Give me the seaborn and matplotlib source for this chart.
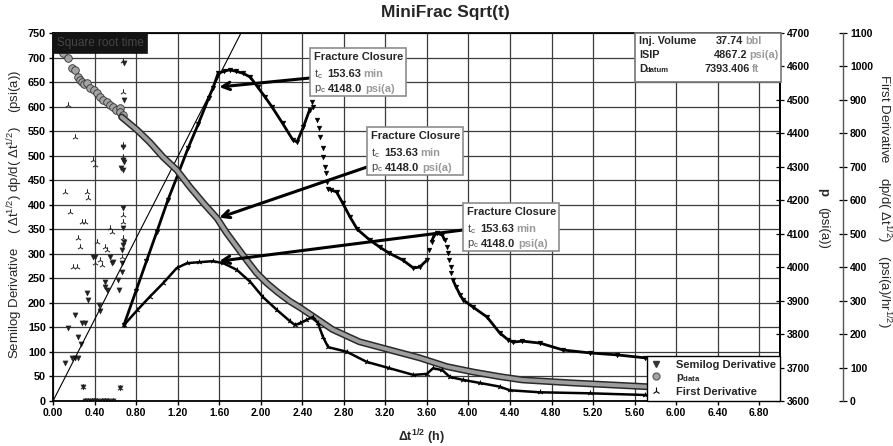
import numpy as np
import matplotlib
matplotlib.use("Agg")
import matplotlib.pyplot as plt
import seaborn as sns
from matplotlib.patches import Rectangle
from matplotlib.lines import Line2D

# ---------------- data ----------------
# x axis: square root of shut-in time, sqrt(h)

# Semilog derivative (psi(a)) - scattered early values
semilog_early_t = [0.115, 0.145, 0.18, 0.21, 0.21, 0.24, 0.24, 0.27, 0.28, 0.31,
                   0.33, 0.34, 0.29, 0.385, 0.40, 0.445, 0.45, 0.50, 0.50, 0.52,
                   0.55, 0.57, 0.58, 0.63, 0.635, 0.645, 0.65, 0.66, 0.66, 0.66,
                   0.67, 0.675, 0.675, 0.675, 0.675, 0.675, 0.68, 0.68, 0.68, 0.68,
                   0.31, 0.34, 0.375, 0.39, 0.42, 0.47, 0.50, 0.53, 0.58]
semilog_early_v = [77, 149, 88, 88, 175, 88, 131, 116, 159, 159,
                   220, 206, 29, 293, 293, 196, 183, 242, 232, 226,
                   293, 281, 283, 247, 226, 26, 475, 281, 263, 308,
                   393, 318, 352, 471, 491, 518, 487, 613, 689, 324,
                   0, 0, 0, 0, 0, 0, 0, 0, 0]

# Semilog derivative (psi(a)) - main curve
semilog_t = [0.683, 0.80, 0.90, 1.00, 1.107, 1.20, 1.30, 1.40, 1.50, 1.54,
             1.59, 1.65, 1.70, 1.76, 1.83, 1.90, 1.97, 2.04, 2.11, 2.21,
             2.31, 2.35, 2.41, 2.47, 2.49, 2.505, 2.545, 2.565, 2.575, 2.595,
             2.60, 2.62, 2.625, 2.635, 2.65, 2.68, 2.73, 2.79, 2.86, 2.93,
             3.05, 3.15, 3.24, 3.37, 3.47, 3.53, 3.60, 3.62, 3.645, 3.67,
             3.70, 3.75, 3.77, 3.79, 3.805, 3.815, 3.83, 3.835, 3.85, 3.88,
             3.92, 3.95, 4.04, 4.18, 4.30, 4.38, 4.43, 4.52, 4.69, 4.91,
             5.17, 5.43, 5.70, 5.80]
semilog_v = [155, 225, 285, 345, 410, 460, 515, 565, 618, 638,
             668, 672, 675, 672, 668, 660, 640, 620, 599, 566,
             532, 528, 558, 593, 610, 600, 573, 556, 539, 515,
             498, 477, 464, 447, 433, 430, 426, 403, 375, 350,
             328, 313, 301, 287, 271, 273, 287, 308, 325, 338,
             342, 338, 328, 314, 301, 287, 274, 260, 247, 233,
             216, 206, 192, 171, 139, 125, 120, 122, 118, 104,
             98, 94, 88, 86]

# Bottomhole pressure p (psi(a)) - early scattered readings
p_early_t = [0.10, 0.145, 0.18, 0.21, 0.24, 0.26, 0.28, 0.30, 0.33, 0.36,
             0.39, 0.42, 0.45, 0.48, 0.52, 0.55, 0.58, 0.61, 0.645, 0.645, 0.675]
p_early_v = [4640, 4625, 4596, 4590, 4568, 4560, 4553, 4548, 4550, 4536,
             4530, 4521, 4509, 4500, 4493, 4486, 4479, 4470, 4476, 4464, 4455]

# Bottomhole pressure p (psi(a)) - main curve
p_t = [0.66, 0.81, 0.93, 1.06, 1.19, 1.32, 1.45, 1.58, 1.67, 1.77,
       1.87, 1.96, 2.06, 2.16, 2.28, 2.38, 2.50, 2.69, 2.95, 3.24,
       3.53, 3.79, 4.04, 4.30, 4.52, 5.00, 5.70, 5.80]
p_v = [4449, 4410, 4374, 4329, 4291, 4239, 4191, 4146, 4103, 4061,
       4019, 3983, 3952, 3926, 3898, 3879, 3854, 3814, 3777, 3753,
       3729, 3703, 3687, 3673, 3663, 3654, 3643, 3641]

# First derivative dp/d(sqrt t) (psi(a)/hr^1/2) - early scattered values
fd_early_t = [0.115, 0.145, 0.165, 0.19, 0.21, 0.23, 0.24, 0.26, 0.28, 0.31,
              0.33, 0.34, 0.29, 0.385, 0.40, 0.40, 0.42, 0.45, 0.47, 0.50,
              0.52, 0.55, 0.57, 0.645, 0.66, 0.675, 0.675, 0.675, 0.675, 0.675,
              0.675, 0.675, 0.645,
              0.31, 0.34, 0.375, 0.39, 0.42, 0.47, 0.50, 0.53, 0.58]
fd_early_v = [625, 884, 565, 400, 789, 400, 487, 461, 535, 535,
              625, 606, 43, 720, 705, 412, 475, 421, 406, 461,
              452, 516, 505, 1071, 430, 487, 535, 556, 729, 766,
              924, 1016, 38,
              0, 0, 0, 0, 0, 0, 0, 0, 0]

# First derivative (psi(a)/hr^1/2) - main curve
fd_t = [0.683, 0.81, 0.93, 1.06, 1.19, 1.29, 1.41, 1.54, 1.64, 1.77,
        1.90, 2.02, 2.16, 2.28, 2.33, 2.38, 2.44, 2.50, 2.55, 2.60,
        2.65, 2.83, 3.02, 3.24, 3.47, 3.60, 3.66, 3.75, 3.82, 3.95,
        4.11, 4.30, 4.40, 4.69, 5.17, 5.70, 5.80]
fd_v = [227, 271, 311, 352, 397, 412, 415, 418, 412, 392,
        356, 311, 271, 239, 227, 233, 242, 251, 233, 191,
        161, 147, 117, 98, 78, 81, 98, 92, 72, 63,
        54, 43, 32, 26, 23, 18, 18]

# Straight line through the origin on the semilog derivative
tangent_t = [0.0, 1.81]
tangent_v = [0.0, 750.0]

# Fracture closure pick
closure_tc_min = 153.63
closure_pc = 4148.0
closure_semilog = 640.0
closure_fd = 418.0

# Job summary
inj_volume = "37.74"
isip = "4867.2"
d_datum = "7393.406"

x_tick_values = [0.0, 0.4, 0.8, 1.2, 1.6, 2.0, 2.4, 2.8, 3.2, 3.6, 4.0, 4.4,
                 4.8, 5.2, 5.6, 6.0, 6.4, 6.8]
left_tick_values = list(range(0, 751, 50))
p_tick_values = list(range(3600, 4701, 100))
fd_tick_values = list(range(0, 1101, 100))

# ---------------- style ----------------
W, H = 893, 446
sns.set_theme(style="white")
plt.rcParams["font.family"] = ["Liberation Sans", "DejaVu Sans"]
plt.rcParams["mathtext.fontset"] = "custom"
plt.rcParams["mathtext.rm"] = "Liberation Sans"
plt.rcParams["mathtext.it"] = "Liberation Sans:italic"
plt.rcParams["mathtext.bf"] = "Liberation Sans:bold"

fig = plt.figure(figsize=(W / 100, H / 100), dpi=100, facecolor="white")
ax = fig.add_axes([53 / W, 45 / H, 727 / W, 368 / H])
ax2 = ax.twinx()
ax3 = ax.twinx()
ax3.spines["right"].set_position(("axes", (843 - 53) / 727))


def ftext(x, y, s, **kw):
    kw.setdefault("va", "center")
    kw.setdefault("zorder", 6)
    return fig.text(x / W, 1 - y / H, s, **kw)


def segment_ids(t, v, steep):
    t = np.asarray(t, float)
    v = np.asarray(v, float)
    slope = np.abs(np.diff(v) / np.diff(t))
    return np.concatenate([[0], np.cumsum(slope > steep)])


closure_t = np.sqrt(closure_tc_min / 60.0)

# ---------------- axes setup ----------------
ax.set_xlim(0, 7.0)
ax.set_ylim(0, 750)
ax2.set_ylim(3600, 4700)
ax3.set_ylim(0, 1100)

ax.set_xticks(x_tick_values, labels=[f"{v:.2f}" for v in x_tick_values],
              fontweight="bold", fontsize=7.5)
ax.set_yticks(left_tick_values, labels=[str(v) for v in left_tick_values],
              fontweight="bold", fontsize=7.8)
ax2.set_yticks(p_tick_values, labels=[str(v) for v in p_tick_values],
               fontweight="bold", fontsize=7.5)
ax3.set_yticks(fd_tick_values, labels=[str(v) for v in fd_tick_values],
               fontweight="bold", fontsize=7.5)

ax.grid(True, color="#3c3c3c", lw=0.9)
ax.set_axisbelow(True)
ax.tick_params(axis="both", direction="out", length=3, width=1, pad=2,
               colors="black", bottom=True, left=True)
ax2.tick_params(axis="y", direction="inout", length=6, width=0.9, pad=2, colors="black")
ax3.tick_params(axis="y", direction="inout", length=6, width=0.9, pad=2, colors="black")

for s in ax.spines.values():
    s.set_color("black")
    s.set_linewidth(1.3)
for name in ("left", "top", "bottom"):
    ax2.spines[name].set_visible(False)
    ax3.spines[name].set_visible(False)
ax2.spines["right"].set_color("black")
ax2.spines["right"].set_linewidth(1.3)
ax3.spines["right"].set_color("#555555")
ax3.spines["right"].set_linewidth(1.0)

# ---------------- series ----------------
# straight-line fit through the origin
sns.lineplot(x=tangent_t, y=tangent_v, ax=ax, color="black", lw=0.8,
             estimator=None, sort=False, legend=False)

# p data: scattered early points then the continuous band
sns.scatterplot(x=p_early_t, y=p_early_v, ax=ax2, marker="o", s=30,
                color="#a3a3a3", edgecolor="#333333", linewidth=0.6, legend=False)
sns.lineplot(x=p_t, y=p_v, ax=ax2, color="#2a2a2a", lw=5.0,
             estimator=None, sort=False, legend=False)
sns.lineplot(x=p_t, y=p_v, ax=ax2, color="#9e9e9e", lw=2.8,
             estimator=None, sort=False, legend=False)

# semilog derivative
semilog_seg = segment_ids(semilog_t, semilog_v, 650)
sns.lineplot(x=semilog_t, y=semilog_v, units=semilog_seg, ax=ax, color="black",
             lw=2.0, estimator=None, sort=False, legend=False)
sns.scatterplot(x=semilog_t, y=semilog_v, ax=ax, marker="v", s=12,
                color="black", edgecolor="black", linewidth=0.3, legend=False)
sns.scatterplot(x=semilog_early_t, y=semilog_early_v, ax=ax, marker="v", s=14,
                color="#222222", edgecolor="#222222", linewidth=0.3, legend=False)

# first derivative
sns.lineplot(x=fd_t, y=fd_v, ax=ax3, color="black", lw=1.8,
             estimator=None, sort=False, legend=False)
sns.scatterplot(x=fd_t, y=fd_v, ax=ax3, marker="2", s=18,
                color="black", linewidth=0.8, legend=False)
sns.scatterplot(x=fd_early_t, y=fd_early_v, ax=ax3, marker="2", s=22,
                color="#222222", linewidth=0.7, legend=False)

for a in (ax, ax2, ax3):
    a.set_xlabel("")
    a.set_ylabel("")
ax.set_xlim(0, 7.0)

# ---------------- closure arrows ----------------
arrow = dict(arrowstyle="->,head_length=0.45,head_width=0.22", lw=2.2,
             color="black", shrinkA=0, shrinkB=0)
ax.annotate("", xy=(closure_t, closure_semilog), xycoords="data",
            xytext=(310, H - 78), textcoords="figure pixels", arrowprops=arrow)
ax2.annotate("", xy=(closure_t, closure_pc), xycoords="data",
             xytext=(367, H - 167), textcoords="figure pixels", arrowprops=arrow)
ax3.annotate("", xy=(closure_t, closure_fd), xycoords="data",
             xytext=(463, H - 230), textcoords="figure pixels", arrowprops=arrow)


def closure_box(x0, y0):
    w, h = 96, 48
    fig.add_artist(Rectangle((x0 / W, 1 - (y0 + h) / H), w / W, h / H,
                             transform=fig.transFigure, fc="white",
                             ec="#8c8c8c", lw=1.2, zorder=5))
    ftext(x0 + 4, y0 + 9, "Fracture Closure", fontweight="bold", fontsize=8)
    ftext(x0 + 4, y0 + 26, r"t$_\mathregular{c}$", fontsize=8, color="#444444")
    ftext(x0 + 51, y0 + 26, f"{closure_tc_min:.2f}", fontweight="bold",
          fontsize=8, ha="right")
    ftext(x0 + 53, y0 + 26, "min", fontweight="bold", fontsize=8, color="#9a9a9a")
    ftext(x0 + 4, y0 + 41, r"p$_\mathregular{c}$", fontsize=8, color="#444444")
    ftext(x0 + 52, y0 + 41, f"{closure_pc:.1f}", fontweight="bold",
          fontsize=8, ha="right")
    ftext(x0 + 55, y0 + 41, "psi(a)", fontweight="bold", fontsize=8, color="#9a9a9a")


closure_box(310, 48)
closure_box(367, 127)
closure_box(463, 203)

# ---------------- job summary box ----------------
fig.add_artist(Rectangle((635 / W, 1 - 82 / H), 146 / W, 49 / H,
                         transform=fig.transFigure, fc="white", ec="#777777",
                         lw=1.2, zorder=5))
ftext(639, 41, "Inj. Volume", fontweight="bold", fontsize=7.8)
ftext(743, 41, inj_volume, fontweight="bold", fontsize=7.8, ha="right")
ftext(745, 41, "bbl", fontweight="bold", fontsize=7.8, color="#9a9a9a")
ftext(639, 55, "ISIP", fontweight="bold", fontsize=7.8)
ftext(747, 55, isip, fontweight="bold", fontsize=7.8, ha="right")
ftext(749, 55, "psi(a)", fontweight="bold", fontsize=7.8, color="#9a9a9a")
ftext(639, 69, "D", fontweight="bold", fontsize=7.8)
ftext(646, 71, "datum", fontweight="bold", fontsize=5.5)
ftext(750, 69, d_datum, fontweight="bold", fontsize=7.8, ha="right")
ftext(752, 69, "ft", fontweight="bold", fontsize=7.8, color="#9a9a9a")

# ---------------- corner tag ----------------
fig.add_artist(Rectangle((53 / W, 1 - 53 / H), 94 / W, 20 / H,
                         transform=fig.transFigure, fc="#141414", ec="#141414",
                         lw=0.5, zorder=5))
ftext(57, 43, "Square root time", fontsize=8.5, color="#454545")

# ---------------- legend ----------------
handles = [
    Line2D([], [], ls="", marker="v", ms=5, color="#333333"),
    Line2D([], [], ls="", marker="o", ms=5, mfc="#a3a3a3", mec="#666666"),
    Line2D([], [], ls="", marker="2", ms=6, color="black", mew=0.8),
]
labels = ["Semilog Derivative", r"p$_\mathregular{data}$", "First Derivative"]
leg = ax3.legend(handles, labels, loc="lower right", frameon=True, fancybox=False,
                 edgecolor="black", framealpha=1, borderaxespad=0,
                 handlelength=1.0, handletextpad=1.3, labelspacing=0.25,
                 borderpad=0.35, prop={"weight": "bold", "size": 8})
leg.get_frame().set_linewidth(1.0)
leg.set_zorder(10)

# ---------------- titles and axis labels ----------------
ftext(445, 12, "MiniFrac Sqrt(t)", fontsize=12.5, fontweight="bold", ha="center")
ftext(421, 437, r"Δt$^{\mathbf{1/2}}$ (h)", fontsize=9, fontweight="bold", ha="center")
ftext(15, 214, r"Semilog Derivative    ( Δt$^{1/2}$) dp/d( Δt$^{1/2}$)    (psi(a))",
      fontsize=9.5, rotation=90, ha="center")
ftext(823, 192, "p", fontsize=9.5, fontweight="bold", rotation=270, ha="center")
ftext(823, 228, "(psi(a))", fontsize=9.5, rotation=270, ha="center")
ftext(884, 201, r"First Derivative    dp/d( Δt$^{1/2}$)    (psi(a)/hr$^{1/2}$)",
      fontsize=9.5, rotation=270, ha="center")

fig.savefig("out.png", dpi=100, facecolor="white")
